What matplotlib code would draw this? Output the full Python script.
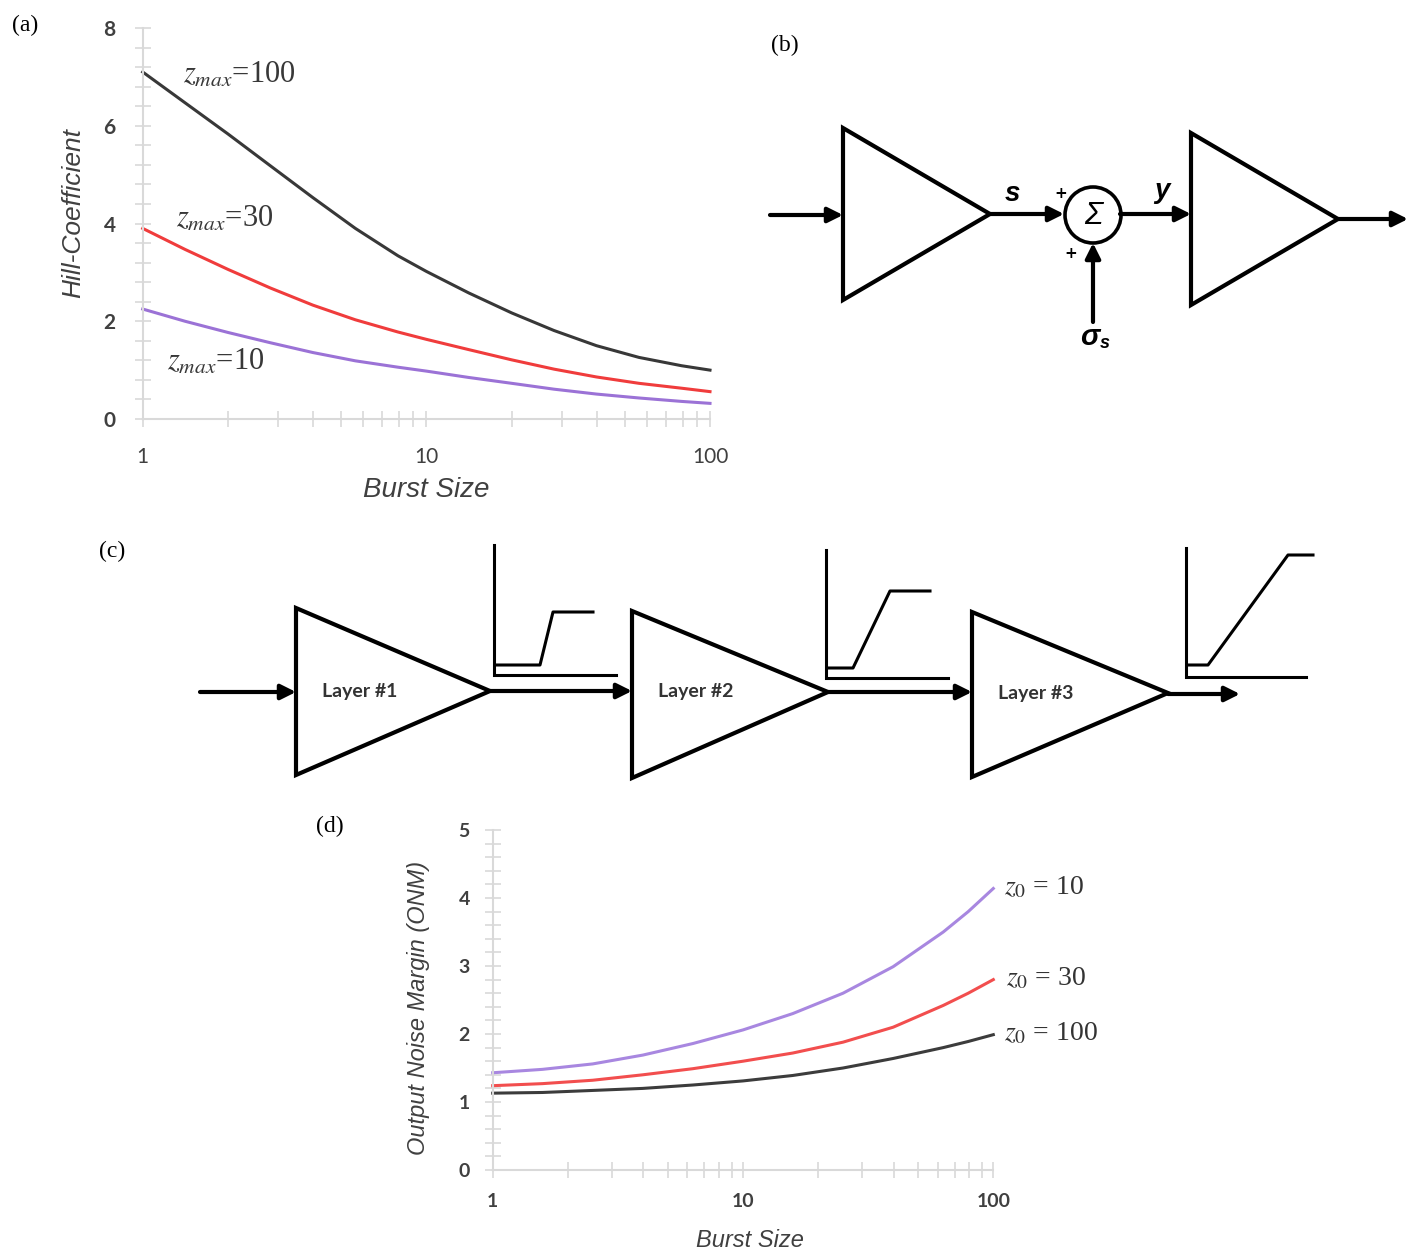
import numpy as np
import matplotlib.pyplot as plt
from matplotlib.patches import Polygon, Circle
from matplotlib.ticker import LogLocator, MultipleLocator, NullFormatter

plt.rcParams['mathtext.fontset'] = 'stix'

# ---- panel (a): Hill coefficient vs burst size
burst_a = [1, 1.41, 2, 2.82, 3.98, 5.62, 7.94, 10, 14.1, 20, 28.2, 39.8, 56.2, 79.4, 100]
hill_z100 = [7.10, 6.47, 5.83, 5.18, 4.53, 3.90, 3.34, 3.02, 2.58, 2.17, 1.81, 1.50, 1.26, 1.09, 1.00]
hill_z30 = [3.90, 3.47, 3.06, 2.68, 2.33, 2.03, 1.78, 1.63, 1.42, 1.21, 1.02, 0.86, 0.73, 0.63, 0.56]
hill_z10 = [2.25, 2.00, 1.77, 1.56, 1.36, 1.19, 1.06, 0.98, 0.85, 0.73, 0.61, 0.51, 0.43, 0.36, 0.32]
labels_a = [r'$z_{max}$=100', r'$z_{max}$=30', r'$z_{max}$=10']
label_pos_a = [(1.39, 7.03), (1.31, 4.09), (1.22, 1.17)]

# ---- panel (d): output noise margin vs burst size
burst_d = [1, 1.58, 2.51, 3.98, 6.31, 10, 15.8, 25.1, 39.8, 63.1, 79.4, 100]
onm_z10 = [1.43, 1.48, 1.56, 1.69, 1.86, 2.06, 2.30, 2.60, 2.99, 3.50, 3.80, 4.14]
onm_z30 = [1.24, 1.27, 1.32, 1.40, 1.49, 1.60, 1.72, 1.88, 2.10, 2.42, 2.60, 2.80]
onm_z100 = [1.13, 1.14, 1.17, 1.20, 1.25, 1.31, 1.39, 1.50, 1.64, 1.80, 1.89, 1.99]
labels_d = [r'$z_0$ = 10', r'$z_0$ = 30', r'$z_0$ = 100']
label_pos_d = [(110, 4.16), (112, 2.82), (110, 2.0)]

c_black = '#383838'
c_red = '#f03c3c'
c_purple = '#9b72d6'

# ---- block diagrams (pixel coords of the page)
tri_b = [[(843, 128), (843, 300), (990, 214)],
         [(1191, 133), (1191, 305), (1338, 219)]]
arrows_b = [((770, 215), (843, 215)), ((990, 214), (1064, 214)),
            ((1093, 322), (1093, 243)), ((1120, 214), (1191, 214)),
            ((1338, 219), (1408, 219))]
tri_c = [[(296, 608), (296, 775), (490, 691)],
         [(632, 611), (632, 778), (828, 692)],
         [(972, 612), (972, 777), (1168, 693)]]
layer_names = ['Layer #1', 'Layer #2', 'Layer #3']
arrows_c = [((200, 692), (296, 692)), ((490, 691), (632, 691)),
            ((828, 692), (972, 692)), ((1168, 694), (1240, 694))]
insets = [dict(x0=494, top=545, base=675, right=616,
               curve=[(497, 665), (540, 665), (553, 612), (593, 612)]),
          dict(x0=826, top=550, base=678, right=948,
               curve=[(828, 668), (853, 668), (890, 591), (930, 591)]),
          dict(x0=1186, top=548, base=677, right=1306,
               curve=[(1188, 665), (1208, 665), (1288, 555), (1313, 555)])]

fig = plt.figure(figsize=(14.08, 12.51), dpi=100)

# overlay in page pixels for diagrams and panel letters
ov = fig.add_axes([0, 0, 1, 1])
ov.set_xlim(0, 1408)
ov.set_ylim(1251, 0)
ov.set_axis_off()

def arrow(a, b, lw=3):
    ov.annotate('', xy=b, xytext=a,
                arrowprops=dict(arrowstyle='-|>,head_length=0.9,head_width=0.45',
                                lw=lw, color='k', shrinkA=0, shrinkB=0,
                                mutation_scale=10))

for t in tri_b + tri_c:
    ov.add_patch(Polygon(t, closed=True, fill=False, ec='k', lw=3, joinstyle='miter'))
for a, b in arrows_b + arrows_c:
    arrow(a, b)
ov.add_patch(Circle((1093, 215), 28, fill=False, ec='k', lw=2.6))
ov.text(1093, 216, 'Σ', fontsize=22, style='italic', ha='center', va='center',
        family='Liberation Sans')
ov.text(1012, 194, 's', fontsize=20, style='italic', weight='bold', ha='center', va='center',
        family='Liberation Sans')
ov.text(1162, 191, 'y', fontsize=20, style='italic', weight='bold', ha='center', va='center',
        family='Liberation Sans')
ov.text(1061, 193, '+', fontsize=11, weight='bold', ha='center', va='center')
ov.text(1071, 254, '+', fontsize=11, weight='bold', ha='center', va='center')
ov.text(1090, 337, 'σ', fontsize=21, style='italic', weight='bold', ha='center', va='center',
        family='Liberation Sans')
ov.text(1105, 343, 's', fontsize=13, style='italic', weight='bold', ha='center', va='center',
        family='Liberation Sans')

for t, name in zip(tri_c, layer_names):
    ov.text(t[0][0] + 64, t[2][1], name, fontsize=14, weight='bold', color='#333333',
            ha='center', va='center', family='Lato')
for ins in insets:
    ov.plot([ins['x0'], ins['x0'], ins['right']], [ins['top'], ins['base'], ins['base']],
            color='k', lw=2.2, solid_joinstyle='miter')
    cx, cy = zip(*ins['curve'])
    ov.plot(cx, cy, color='k', lw=2.2)

for lab, (x, y) in zip(['(a)', '(b)', '(c)', '(d)'],
                       [(25, 25), (785, 45), (112, 551), (330, 826)]):
    ov.text(x, y, lab, fontsize=17, family='Liberation Serif', ha='center', va='center')

def style(ax, ymax, yminor, bold):
    ax.set_xscale('log')
    ax.set_xlim(1, 100)
    ax.set_ylim(0, ymax)
    ax.patch.set_alpha(0)
    for s in ['top', 'right']:
        ax.spines[s].set_visible(False)
    for s in ['left', 'bottom']:
        ax.spines[s].set_color('#d9d9d9')
        ax.spines[s].set_linewidth(1.5)
    ax.set_xticks([1, 10, 100])
    ax.set_xticklabels(['1', '10', '100'])
    ax.xaxis.set_minor_locator(LogLocator(base=10, subs=range(2, 10)))
    ax.xaxis.set_minor_formatter(NullFormatter())
    ax.yaxis.set_minor_locator(MultipleLocator(yminor))
    ax.tick_params(which='both', direction='inout', length=11, width=1.2, color='#d9d9d9')
    ax.tick_params(axis='both', which='major', labelcolor='#404040')
    for lb in ax.get_xticklabels() + ax.get_yticklabels():
        lb.set_family('Lato')
        lb.set_weight('bold' if bold else 'normal')

# ---- (a)
axa = fig.add_axes([142.7 / 1408, 1 - 419 / 1251, (710 - 142.7) / 1408, 391 / 1251])
for y, c in zip([hill_z100, hill_z30, hill_z10], [c_black, c_red, c_purple]):
    axa.plot(burst_a, y, color=c, lw=2.2, clip_on=False)
style(axa, 8, 0.4, False)
axa.set_yticks([0, 2, 4, 6, 8])
axa.tick_params(axis='x', which='major', labelsize=15, pad=15)
axa.tick_params(axis='y', which='major', labelsize=15, pad=14)
for lb in axa.get_yticklabels():
    lb.set_weight('bold')
for lab, (x, y) in zip(labels_a, label_pos_a):
    axa.text(x, y, lab, fontsize=22, color='#383838', family='Liberation Serif',
             ha='left', va='center')
axa.set_xlabel('Burst Size', fontsize=20, style='italic', family='Liberation Sans', color='#404040')
axa.xaxis.label.set_va('center')
axa.xaxis.set_label_coords(0.5, -0.1816)
axa.set_ylabel('Hill-Coefficient', fontsize=19, style='italic', family='Liberation Sans', color='#404040')
axa.yaxis.label.set_va('center')
axa.yaxis.set_label_coords(-0.1229, 0.527)

# ---- (d)
axd = fig.add_axes([492.7 / 1408, 1 - 1170 / 1251, (993.3 - 492.7) / 1408, 340 / 1251])
for y, c in zip([onm_z10, onm_z30, onm_z100], ['#a887e0', '#f24e4e', '#3c3c3c']):
    axd.plot(burst_d, y, color=c, lw=2.2, clip_on=False)
style(axd, 5, 0.2, True)
axd.set_yticks([0, 1, 2, 3, 4, 5])
axd.tick_params(axis='both', which='major', labelsize=14, pad=11)
for lb in axd.get_xticklabels() + axd.get_yticklabels():
    lb.set_weight('bold')
for lab, (x, y) in zip(labels_d, label_pos_d):
    axd.text(x, y, lab, fontsize=20, color='#333333', family='Liberation Serif',
             ha='left', va='center', clip_on=False)
axd.set_xlabel('Burst Size', fontsize=17, style='italic', family='Liberation Sans', color='#404040')
axd.xaxis.label.set_va('center')
axd.xaxis.set_label_coords(0.514, -0.206)
axd.set_ylabel('Output Noise Margin (ONM)', fontsize=17, style='italic', family='Liberation Sans',
               color='#404040')
axd.yaxis.label.set_va('center')
axd.yaxis.set_label_coords(-0.149, 0.476)

fig.savefig('out.png', dpi=100)
